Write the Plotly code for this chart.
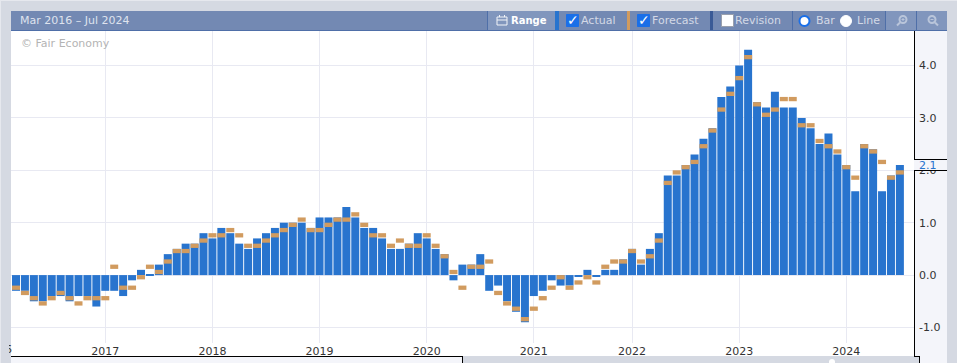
import plotly.graph_objects as go

# Months shown (Mar 2016 - Jul 2024); the source chart has 11 bars in 2021
MONTH_NAMES = ["Jan","Feb","Mar","Apr","May","Jun","Jul","Aug","Sep","Oct","Nov","Dec"]
months = []
for yr in range(2016, 2025):
    for m, name in enumerate(MONTH_NAMES):
        if (yr == 2016 and m < 2) or (yr == 2024 and m > 6) or (yr == 2021 and name == "Aug"):
            continue
        months.append(f"{name} {yr}")

actual = [
    -0.3,-0.3,-0.5,-0.5,-0.4,-0.4,-0.5,-0.4,-0.4,-0.6,
    -0.3,-0.3,-0.4,-0.1,0.1,0.02,0.2,0.4,0.5,0.6,0.6,0.8,
    0.7,0.9,0.8,0.6,0.5,0.7,0.8,0.9,1.0,1.0,1.0,0.9,
    1.1,1.1,1.1,1.3,1.1,0.9,0.9,0.7,0.5,0.5,0.6,0.8,
    0.7,0.5,0.4,-0.1,0.2,0.2,0.4,-0.3,-0.2,-0.5,-0.7,-0.9,
    -0.4,-0.3,-0.1,-0.2,-0.2,-0.02,0.1,-0.02,0.1,0.1,0.3,
    0.5,0.2,0.5,0.8,1.9,1.9,2.1,2.3,2.6,2.8,3.4,3.6,4.0,
    4.3,3.3,3.2,3.5,3.2,3.2,3.0,2.8,2.5,2.7,2.3,2.1,
    1.6,2.5,2.4,1.6,1.9,2.1,
]
forecast = [
    -0.2,-0.3,-0.4,-0.5,-0.4,-0.3,-0.4,-0.5,-0.4,-0.4,
    -0.4,0.2,-0.2,-0.2,0.0,0.2,0.1,0.3,0.5,0.5,0.6,0.7,
    0.8,0.8,0.9,0.8,0.6,0.6,0.7,0.8,0.9,1.0,1.1,0.9,
    0.9,1.0,1.1,1.1,1.2,1.0,0.8,0.8,0.6,0.7,0.6,0.6,
    0.8,0.6,0.4,0.1,-0.2,0.2,0.2,0.3,-0.3,-0.5,-0.6,-0.8,
    -0.6,-0.4,-0.2,0.0,-0.2,-0.1,0.0,-0.1,0.2,0.3,0.3,
    0.5,0.3,0.4,0.7,1.8,2.0,2.1,2.2,2.5,2.8,3.2,3.5,3.8,
    4.2,3.3,3.1,3.2,3.4,3.4,2.9,2.9,2.6,2.5,2.4,2.1,
    1.9,2.5,2.4,2.2,1.9,2.0,
]
year_ticks = ["Jan 2017","Jan 2018","Jan 2019","Jan 2020","Jan 2021","Jan 2022","Jan 2023","Jan 2024"]
year_labels = ["2017","2018","2019","2020","2021","2022","2023","2024"]
y_ticks = [-1, 0, 1, 2, 3, 4]
y_labels = ["-1.0","0.0","1.0","2.0","3.0","4.0"]
latest_label = "2.1"
period_label = "Mar 2016 – Jul 2024"

W, H = 961, 363
L, R, T, B = 11, 914, 31, 343
FONT = "DejaVu Sans"
GREY = "#d5d9e2"; PANEL = "#f4f5fa"; HEAD = "#7389b3"; HEAD2 = "#8196bd"
BLUE = "#2874ce"; ORANGE = "#d19b5f"; GRID = "#e8e9f2"; CHECK = "#1a6fe8"


def px(x):
    return (x - L) / (R - L)


def py(y):
    return (B - y) / (B - T)


shapes = []


def rect(x0, y0, x1, y1, fill, layer="below", line=None, lw=0):
    shapes.append(dict(type="rect", xref="paper", yref="paper", x0=px(x0), x1=px(x1),
                       y0=py(y0), y1=py(y1), fillcolor=fill, layer=layer,
                       line=dict(color=line or fill, width=lw)))


def seg(x0, y0, x1, y1, color, w=1, layer="above"):
    shapes.append(dict(type="line", xref="paper", yref="paper", x0=px(x0), x1=px(x1),
                       y0=py(y0), y1=py(y1), layer=layer, line=dict(color=color, width=w)))


def circ(cx, cy, r, fill, line, w=1, layer="above"):
    shapes.append(dict(type="circle", xref="paper", yref="paper", x0=px(cx - r), x1=px(cx + r),
                       y0=py(cy + r), y1=py(cy - r), fillcolor=fill, layer=layer,
                       line=dict(color=line, width=w)))


# chrome
rect(0, 0, 961, 1, "#e6e8ee", "below")
rect(0, 0, 1, 363, "#e6e8ee", "below")
rect(957, 0, 961, 363, "#ffffff", "below")
rect(L, T, R, 356, "#ffffff", "below")
rect(R, T, 947, 363, PANEL, "below")
rect(L, 357, 462, 363, PANEL, "below")
rect(463, 356, 919, 363, GREY, "below")
circ(832, 362, 3, "#ffffff", "#ffffff", 0, "below")
rect(L, 11, 947, 30, HEAD, "above")
seg(L, 30.5, 947, 30.5, "#4f6fa8", 1)
rect(487, 11, 555, 30, HEAD2, "above")
rect(885, 11, 947, 30, HEAD2, "above")
rect(555, 11, 559, 30, BLUE, "above")
rect(627, 11, 630, 30, ORANGE, "above")
rect(710, 11, 713, 30, "#3a5a96", "above")
for sx in (487, 792, 885, 916):
    seg(sx + .5, 11, sx + .5, 30, "#4f6fa8", 1)
# calendar icon
rect(497, 17, 507, 25, "rgba(0,0,0,0)", "above", "#f2f4f8", 1)
seg(497, 20, 507, 20, "#f2f4f8", 1)
seg(499.5, 15, 499.5, 17, "#f2f4f8", 1)
seg(504.5, 15, 504.5, 17, "#f2f4f8", 1)
# checkboxes
for cx in (566.5, 637.5):
    rect(cx, 14.5, cx + 12, 26.5, CHECK, "above", CHECK, 1)
rect(721.5, 14.5, 733.5, 26.5, "#ffffff", "above", "#9aa0ad", 1)
# radios
circ(804.5, 21, 5, "#ffffff", CHECK, 2)
circ(846, 21, 5.5, "#ffffff", "#ffffff", 1)
# zoom icons
ICON = "#b9c5da"
circ(903, 19.5, 3.5, "rgba(0,0,0,0)", ICON, 2)
seg(900, 22.5, 897, 25.5, ICON, 2)
seg(901.5, 19.5, 904.5, 19.5, ICON, 1)
seg(903, 18, 903, 21, ICON, 1)
circ(932, 19.5, 3.5, "rgba(0,0,0,0)", ICON, 2)
seg(935, 22.5, 938, 25.5, ICON, 2)
seg(930.5, 19.5, 933.5, 19.5, ICON, 1)
# axis frame
seg(R + .5, T, R + .5, 357, "#000000", 1)
seg(L, 356.5, 463, 356.5, "#000000", 1)
seg(462.5, 356, 462.5, 363, "#000000", 1)
seg(R, 356.5, 920, 356.5, "#000000", 1)
seg(919.5, 356, 919.5, 363, "#000000", 1)
# latest-value flag
rect(R, 159, 947, 170, PANEL, "above")
seg(R, 159.5, 947, 159.5, "#000000", 1)
seg(R, 170.5, 947, 170.5, "#000000", 1)


def note(text, x, y, color, size=11, anchor="left", bold=False, **kw):
    return dict(text=f"<b>{text}</b>" if bold else text, xref="paper", yref="paper", x=px(x), y=py(y),
                xanchor=anchor, yanchor="middle", showarrow=False, borderpad=0, borderwidth=0,
                font=dict(family=FONT, size=size, color=color), **kw)


annotations = [
    note(period_label, 20, 21, "#dfe3ee"),
    note("© Fair Economy", 21, 44, "#b4b4b4"),
    note("Range", 511, 21, "#ffffff", 10, bold=True),
    note("✓", 566.5, 20.5, "#ffffff", 14, bold=True),
    note("✓", 637.5, 20.5, "#ffffff", 14, bold=True),
    note("Actual", 581, 21, "#d3d9e6"),
    note("Forecast", 652, 21, "#d3d9e6"),
    note("Revision", 735, 21, "#d3d9e6"),
    note("Bar", 816, 21, "#d3d9e6"),
    note("Line", 857, 21, "#d3d9e6"),
    note(latest_label, 919, 165, BLUE),
    note("2016", 9, 349, "#333333", width=3, height=14, align="right"),
]

fig = go.Figure()
fig.add_bar(x=months, y=actual, marker=dict(color=BLUE, line_width=0), name="Actual")
fig.add_bar(x=months, base=forecast, y=[-0.082] * len(forecast),
            marker=dict(color=ORANGE, line_width=0), name="Forecast")

fig.update_layout(
    width=W, height=H, autosize=False,
    margin=dict(l=L, r=W - R, t=T, b=H - B, pad=0, autoexpand=False),
    paper_bgcolor=GREY, plot_bgcolor="#ffffff",
    barmode="overlay", bargap=0.104, showlegend=False,
    font=dict(family=FONT, size=11, color="#333333"),
    shapes=shapes, annotations=annotations,
    xaxis=dict(type="category", categoryorder="array", categoryarray=months,
               range=[-0.56, 100.58], tickmode="array", tickvals=year_ticks, ticktext=year_labels,
               showgrid=True, gridcolor=GRID, gridwidth=1, zeroline=False, showline=False,
               ticks="", tickangle=0, tickfont=dict(family=FONT, size=11, color="#333333")),
    yaxis=dict(side="right", range=[-1.296, 4.658], tickmode="array", tickvals=y_ticks, ticktext=y_labels,
               showgrid=True, gridcolor=GRID, gridwidth=1, zeroline=False, showline=False,
               ticks="", ticklabelstandoff=4, tickfont=dict(family=FONT, size=11, color="#333333")),
)

fig.write_html("out.html", config=dict(displayModeBar=False),
               post_script="document.body.style.margin='0';document.body.style.overflow='hidden';")
